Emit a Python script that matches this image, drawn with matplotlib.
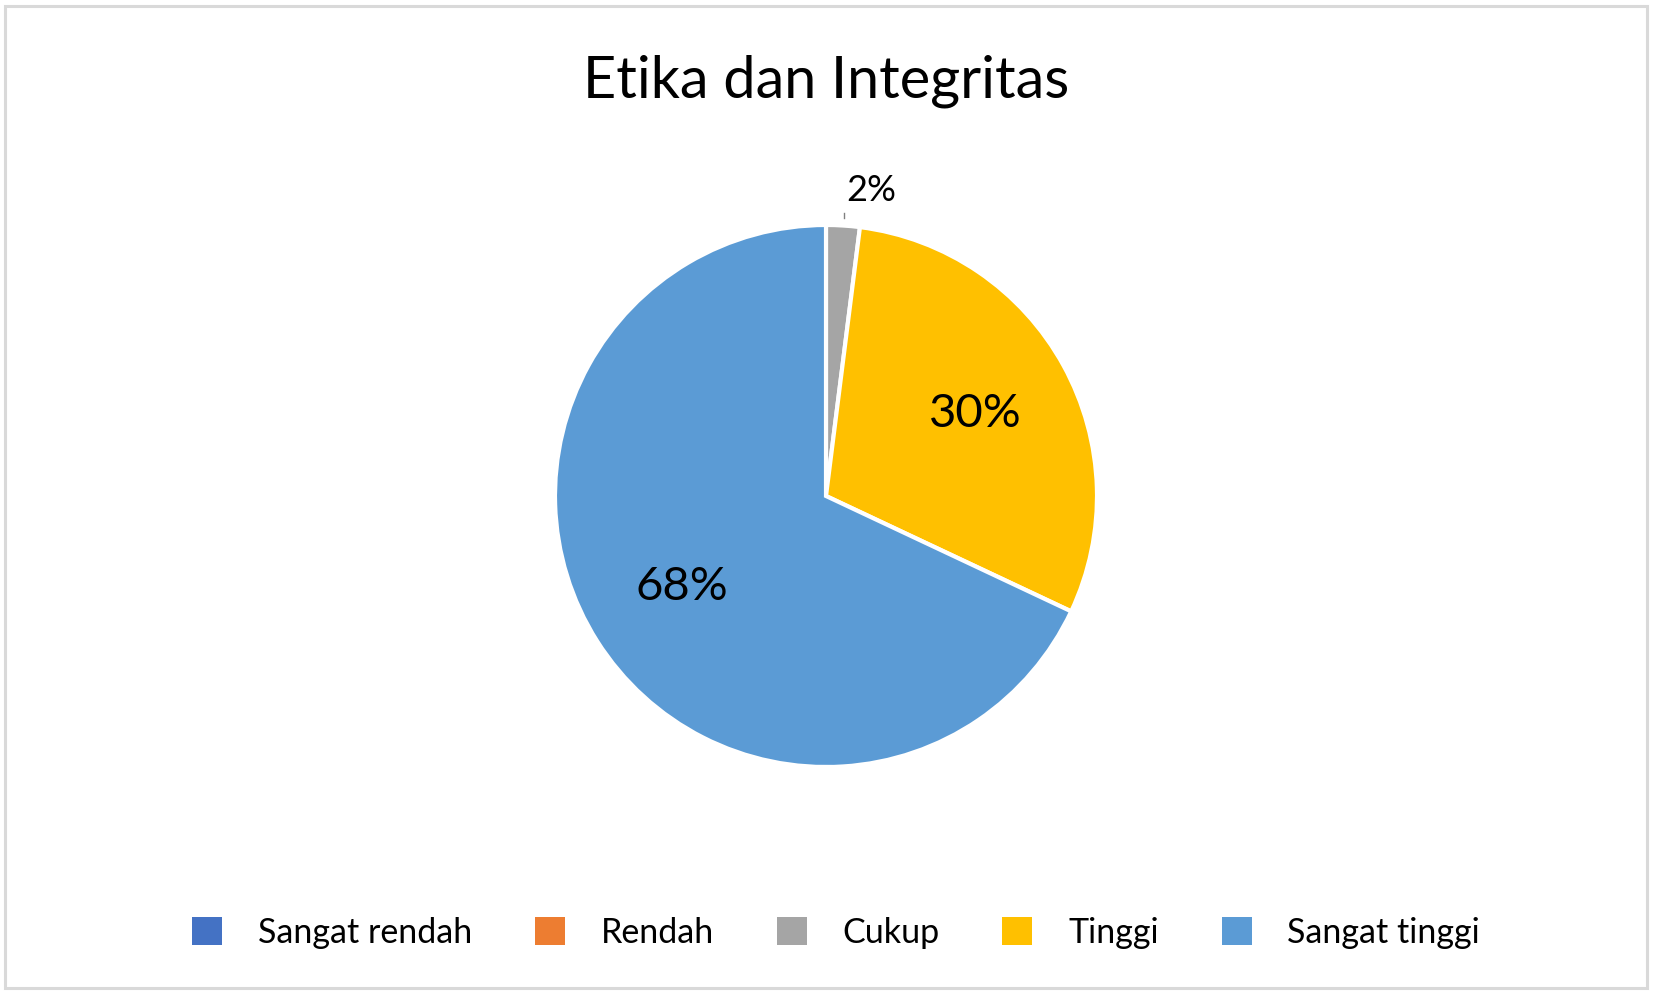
import matplotlib
matplotlib.use("Agg")
import matplotlib.pyplot as plt
from matplotlib.patches import Patch, Rectangle
import numpy as np

plt.rcParams['font.family'] = ['Lato', 'DejaVu Sans']

categories = ["Sangat rendah", "Rendah", "Cukup", "Tinggi", "Sangat tinggi"]
values = [0, 0, 2, 30, 68]
colors = ["#4472C4", "#ED7D31", "#A5A5A5", "#FFC000", "#5B9BD5"]
title = "Etika dan Integritas"

W, H = 1653, 993
fig = plt.figure(figsize=(W / 100, H / 100), dpi=100)

# pie area: centre (826, 496), radius 271 px
cx, cy, r = 826, 496, 271
ax = fig.add_axes([(cx - r) / W, (H - cy - r) / H, 2 * r / W, 2 * r / H])


def big_pct(p):
    return f"{p:.0f}%" if p >= 5 else ""


wedges, _, autotexts = ax.pie(values, colors=colors, startangle=90, counterclock=False,
                              radius=1, autopct=big_pct, pctdistance=0.63,
                              wedgeprops=dict(edgecolor="white", linewidth=3),
                              textprops=dict(fontsize=34, color="black"))
ax.set_xlim(-1, 1)
ax.set_ylim(-1, 1)
ax.set_aspect("equal")
ax.axis("off")

# small slice label outside with short leader line
total = sum(values)
for w, v in zip(wedges, values):
    if 0 < v / total * 100 < 5:
        ang = np.deg2rad((w.theta1 + w.theta2) / 2)
        x0 = 1.06 * np.cos(ang)
        ax.plot([x0, x0], [1.025, 1.045], color="#808080", lw=1, clip_on=False)
        ax.text(x0 + 0.1, 1.065, f"{v / total * 100:.0f}%", fontsize=26,
                ha="center", va="bottom", clip_on=False)

fig.text(cx / W, 1 - 97 / H, title, fontsize=41.5, ha="center", va="baseline")

handles = [Patch(facecolor=c, edgecolor="none") for c in colors]
fig.legend(handles, categories, loc="center", bbox_to_anchor=(836 / W, 1 - 933 / H),
           ncol=5, frameon=False, fontsize=24.5, handlelength=0.88, handleheight=0.88,
           handletextpad=1.05, columnspacing=1.85)

fig.add_artist(Rectangle((5 / W, 5 / H), (W - 11) / W, (H - 11) / H,
                         transform=fig.transFigure, fill=False,
                         edgecolor="#D9D9D9", linewidth=2.2))

fig.savefig("out.png", dpi=100)
